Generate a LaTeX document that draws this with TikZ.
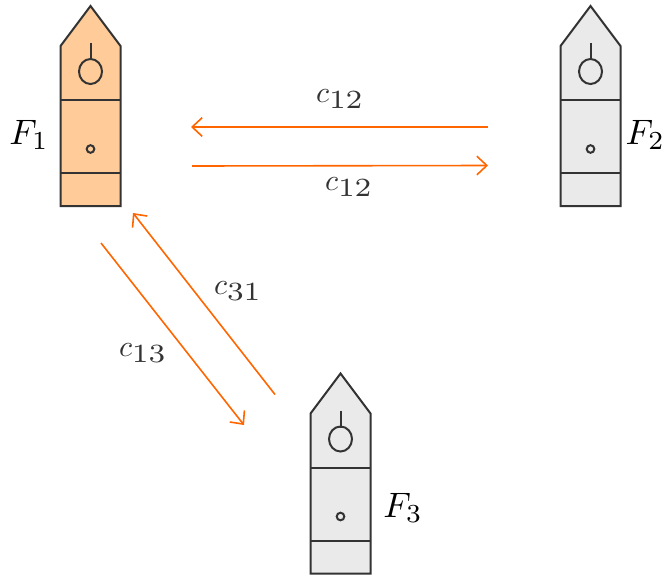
\documentclass[tikz,border=0pt]{standalone}
\usetikzlibrary{arrows.meta}
\definecolor{penorange}{HTML}{FFCC99}
\definecolor{pengrey}{HTML}{EAEAEA}
\definecolor{penline}{HTML}{333333}
\definecolor{arroworange}{HTML}{FF6600}
\newcommand{\fsub}[1]{_{\scalebox{1.05}{$\scriptstyle #1$}}}
\newcommand{\csub}[1]{_{\scalebox{1.4}[1.25]{$\scriptstyle #1$}}}
\tikzset{
  penbody/.style={draw=penline,line width=1.5pt,line join=miter},
  link/.style={draw=arroworange,line width=1.2pt,-{Straight Barb[length=7.5pt,width=14pt,line width=1.2pt]}},
  flabel/.style={text=black,scale=2.65,inner sep=0pt},
  clabel/.style={text=penline,scale=2.25,inner sep=0pt},
  pics/pen/.style={code={
    \path[penbody,fill=#1] (-30,40) -- (0,0) -- (30,40) -- (30,200) -- (-30,200) -- cycle;
    \draw[penbody] (-30,94) -- (30,94);
    \draw[penbody] (-30,167) -- (30,167);
    \draw[penbody] (0,37) -- (0,54);
    \draw[penbody] (0,65.5) ellipse[x radius=11.5,y radius=12.5];
    \draw[penbody] (0,143) circle[radius=3.8];
  }}
}
\begin{document}
\begin{tikzpicture}[x=0.75pt,y=-0.75pt]
\useasboundingbox (0,0) rectangle (666,575);
\pic at (90.5,6) {pen=penorange};
\pic at (590.5,6) {pen=pengrey};
\pic at (340.5,373.5) {pen=pengrey};
\node[flabel] (f1) at (29,135) {$F\fsub{1}$};
\node[flabel,anchor=east] (f2) at (665.5,135) {$F\fsub{2}$};
\node[flabel] (f3) at (403,508) {$F\fsub{3}$};
\coordinate (a1) at (488,127);
\coordinate (a2) at (191,127);
\coordinate (b1) at (192,166);
\coordinate (b2) at (488,165.5);
\coordinate (d1) at (275,394.5);
\coordinate (d2) at (133,213);
\coordinate (e1) at (101,243);
\coordinate (e2) at (244,425);
\draw[link] (a1) -- (a2);
\draw[link] (b1) -- (b2);
\draw[link] (d1) -- (d2);
\draw[link] (e1) -- (e2);
\node[clabel] (c1) at (340,99) {$c\csub{12}$};
\node[clabel] (c2) at (349,187) {$c\csub{12}$};
\node[clabel] (c3) at (238,291) {$c\csub{31}$};
\node[clabel] (c4) at (143,353) {$c\csub{13}$};
\end{tikzpicture}
\end{document}
